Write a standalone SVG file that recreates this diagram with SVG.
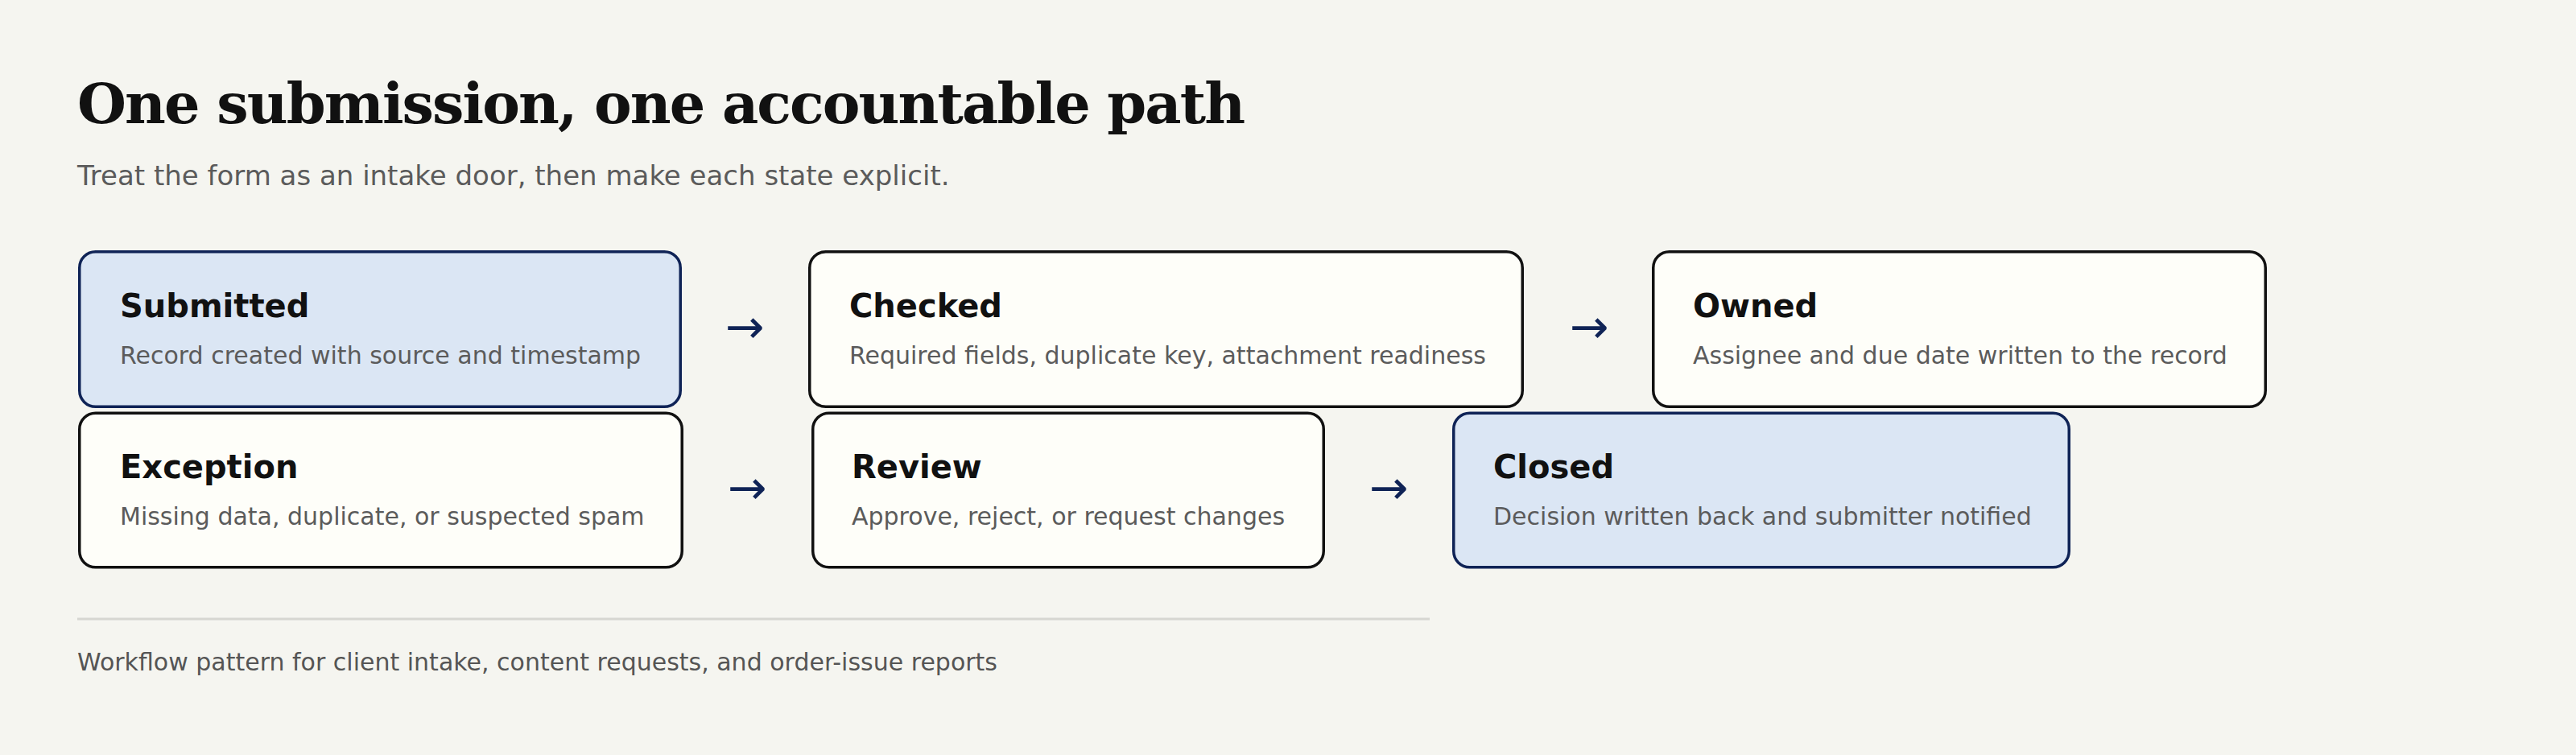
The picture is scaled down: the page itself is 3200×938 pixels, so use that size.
<svg xmlns="http://www.w3.org/2000/svg" width="3200" height="938" viewBox="0 0 3200 938">
<style>
.bg{fill:#f5f5f0}
.title{font-family:"DejaVu Serif","Liberation Serif",serif;font-weight:bold;font-size:70px;letter-spacing:-1.9px;fill:#111111}
.sub{font-family:"DejaVu Sans","Liberation Sans",sans-serif;font-size:34px;fill:#5b5b5b}
.box{fill:#fefef9;stroke:#111111;stroke-width:3.5}
.box.hl{fill:#dbe6f4;stroke:#0f2356}
.name{font-family:"DejaVu Sans","Liberation Sans",sans-serif;font-weight:bold;font-size:40px;fill:#111111}
.desc{font-family:"DejaVu Sans","Liberation Sans",sans-serif;font-size:30px;fill:#5b5b5b}
.arrow{font-family:"DejaVu Sans","Liberation Sans",sans-serif;font-size:58px;fill:#0f2356;text-anchor:middle}
.rule{stroke:#d6d6d1;stroke-width:3}
.foot{font-family:"DejaVu Sans","Liberation Sans",sans-serif;font-size:30px;fill:#555555}
</style>
<rect class="bg" x="0" y="0" width="3200" height="938"/>
<g id="header">
<text class="title" x="96" y="153">One submission, one accountable path</text>
<text class="sub" x="96" y="230">Treat the form as an intake door, then make each state explicit.</text>
</g>
<g id="node-submitted">
<rect class="box hl" x="98.75" y="312.75" width="746.5" height="192.5" rx="20"/>
<text class="name" x="149" y="394">Submitted</text>
<text class="desc" x="149" y="452">Record created with source and timestamp</text>
</g>
<g id="node-checked">
<rect class="box" x="1005.75" y="312.75" width="885.5" height="192.5" rx="20"/>
<text class="name" x="1055" y="394">Checked</text>
<text class="desc" x="1055" y="452">Required fields, duplicate key, attachment readiness</text>
</g>
<g id="node-owned">
<rect class="box" x="2053.75" y="312.75" width="760.5" height="192.5" rx="20"/>
<text class="name" x="2103" y="394">Owned</text>
<text class="desc" x="2103" y="452">Assignee and due date written to the record</text>
</g>
<g id="node-exception">
<rect class="box" x="98.75" y="513.25" width="748.5" height="191.5" rx="20"/>
<text class="name" x="149" y="594">Exception</text>
<text class="desc" x="149" y="652">Missing data, duplicate, or suspected spam</text>
</g>
<g id="node-review">
<rect class="box" x="1009.75" y="513.25" width="634.5" height="191.5" rx="20"/>
<text class="name" x="1058" y="594">Review</text>
<text class="desc" x="1058" y="652">Approve, reject, or request changes</text>
</g>
<g id="node-closed">
<rect class="box hl" x="1805.75" y="513.25" width="764.5" height="191.5" rx="20"/>
<text class="name" x="1855" y="594">Closed</text>
<text class="desc" x="1855" y="652">Decision written back and submitter notified</text>
</g>
<g id="connectors">
<text class="arrow" x="925" y="426">→</text>
<text class="arrow" x="1974" y="426">→</text>
<text class="arrow" x="928" y="626">→</text>
<text class="arrow" x="1725" y="626">→</text>
</g>
<g id="footer">
<line class="rule" x1="96" y1="769" x2="1776" y2="769"/>
<text class="foot" x="96" y="833">Workflow pattern for client intake, content requests, and order-issue reports</text>
</g>
</svg>
